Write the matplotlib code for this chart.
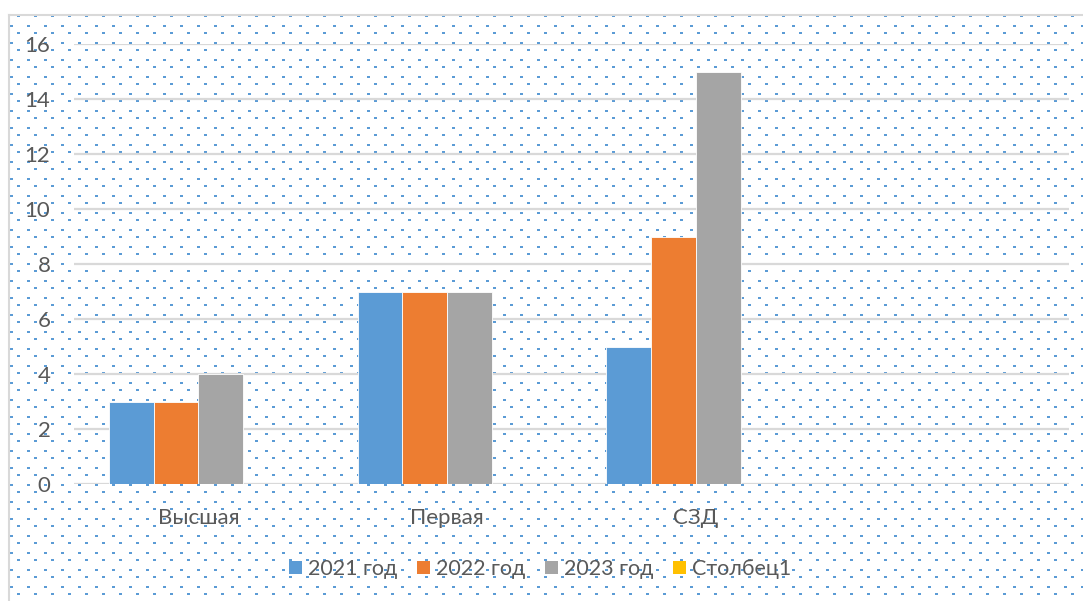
import numpy as np
import matplotlib.pyplot as plt
from matplotlib.patches import Patch, Rectangle
from matplotlib.collections import PatchCollection

# data
categories = ["Высшая", "Первая", "СЗД", ""]
series_names = ["2021 год", "2022 год", "2023 год", "Столбец1"]
values_2021 = [3, 7, 5, np.nan]
values_2022 = [3, 7, 9, np.nan]
values_2023 = [4, 7, 15, np.nan]
values_col1 = [np.nan, np.nan, np.nan, np.nan]
colors = ["#5B9BD5", "#ED7D31", "#A5A5A5", "#FFC000"]
yticks = [0, 2, 4, 6, 8, 10, 12, 14, 16]

plt.rcParams['font.family'] = ['Lato', 'DejaVu Sans']
W, H = 1083, 601
fig = plt.figure(figsize=(W / 100, H / 100), dpi=100)

# background with dotted pattern (pixel coords)
bg = fig.add_axes([0, 0, 1, 1])
bg.set_xlim(0, W)
bg.set_ylim(H, 0)
bg.axis("off")
x0, y0 = 9, 15
dots = []
for k in range(40):
    ya = 15 + 17 * k
    yb = 25 + 17 * k
    for xa in range(17, W, 17):
        if ya < H:
            dots.append(Rectangle((xa, ya), 3, 2))
    for xb in range(10, W, 17):
        if yb < H:
            dots.append(Rectangle((xb, yb), 3, 2))
bg.add_collection(PatchCollection(dots, facecolor="#5B9BD5", edgecolor="none",
                                  antialiased=False, zorder=1))
bg.plot([x0, x0], [y0, H], color="#D9D9D9", lw=1.5, zorder=2)
bg.plot([x0, W], [y0, y0], color="#D9D9D9", lw=1.5, zorder=2)

# main axes
left, right = 74 / W, 1069 / W
bottom, top = (H - 484) / H, (H - 44) / H
ax = fig.add_axes([left, bottom, right - left, top - bottom])
ax.patch.set_alpha(0)
for s in ax.spines.values():
    s.set_visible(False)

x = np.arange(len(categories))
bw = 0.18
all_series = [values_2021, values_2022, values_2023, values_col1]
for i, (vals, c) in enumerate(zip(all_series, colors)):
    ax.bar(x + (i - 1.5) * bw, vals, width=bw, color=c, edgecolor="white",
           linewidth=0.6, zorder=3)

ax.set_xlim(-0.5, len(categories) - 0.5)
ax.set_ylim(0, 16)
ax.set_yticks(yticks)
ax.yaxis.grid(True, color="#D9D9D9", lw=1.6, zorder=0)
ax.set_axisbelow(True)
ax.set_xticks(x)
ax.set_xticklabels(categories)
ax.tick_params(axis="both", length=0, labelsize=16, colors="#595959")
ax.tick_params(axis="y", pad=17)
ax.tick_params(axis="x", pad=17)

handles = [Patch(facecolor=c, edgecolor="none") for c in colors]
fig.legend(handles, series_names, loc="center", ncol=4, frameon=False,
           bbox_to_anchor=(540 / W, 1 - 569 / H), fontsize=15.5,
           labelcolor="#595959", handlelength=0.6, handleheight=0.6,
           handletextpad=0.3, columnspacing=0.9)

fig.savefig("out.png", dpi=100)
